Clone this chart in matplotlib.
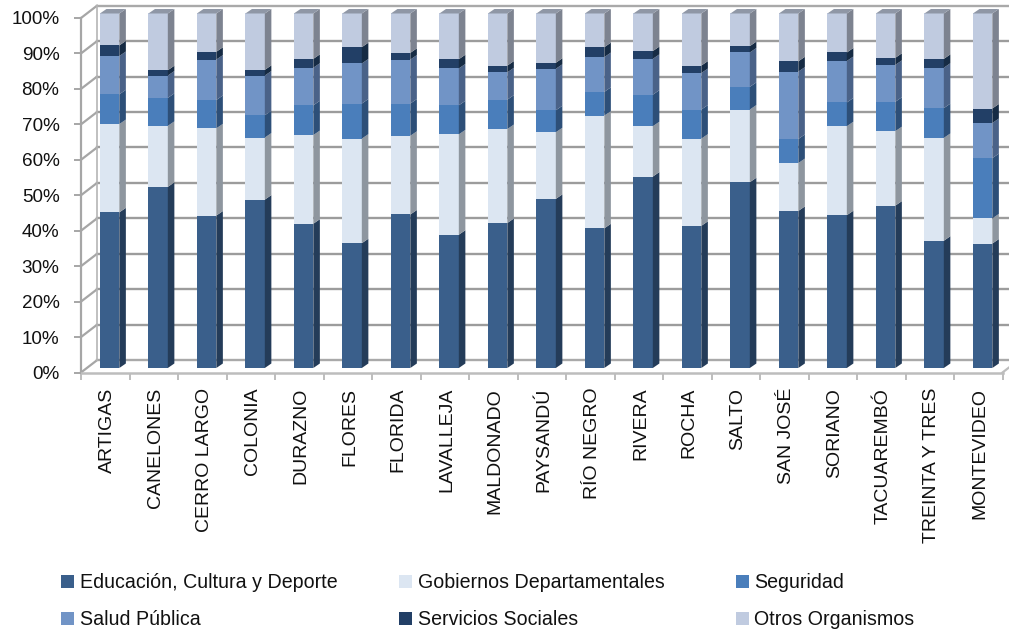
import numpy as np
import matplotlib
matplotlib.use("Agg")
import matplotlib.pyplot as plt
from matplotlib.collections import PolyCollection
from matplotlib.patches import Rectangle

plt.rcParams['font.family'] = ['Liberation Sans', 'DejaVu Sans']

departamentos = ["ARTIGAS", "CANELONES", "CERRO LARGO", "COLONIA", "DURAZNO", "FLORES", "FLORIDA",
                 "LAVALLEJA", "MALDONADO", "PAYSANDÚ", "RÍO NEGRO", "RIVERA", "ROCHA", "SALTO",
                 "SAN JOSÉ", "SORIANO", "TACUAREMBÓ", "TREINTA Y TRES", "MONTEVIDEO"]

educacion = [43.9, 51.1, 43.0, 47.5, 40.7, 35.2, 43.3, 37.6, 40.9, 47.7, 39.4, 54.0, 40.1, 52.4, 44.3, 43.1, 45.8, 35.9, 35.1]
gobiernos = [24.9, 17.2, 24.6, 17.5, 25.0, 29.5, 22.2, 28.3, 26.5, 18.8, 31.8, 14.2, 24.6, 20.5, 13.5, 25.1, 21.0, 29.0, 7.1]
seguridad = [8.4, 7.9, 8.0, 6.3, 8.4, 9.9, 9.1, 8.2, 8.3, 6.2, 6.7, 8.9, 8.2, 6.4, 6.8, 6.7, 8.3, 8.4, 17.0]
salud = [10.8, 6.3, 11.4, 11.2, 10.6, 11.3, 12.4, 10.4, 7.7, 11.7, 9.8, 10.1, 10.3, 9.7, 19.0, 11.7, 10.4, 11.4, 9.9]
servicios = [3.0, 1.5, 2.2, 1.6, 2.5, 4.6, 1.9, 2.6, 1.9, 1.7, 2.8, 2.2, 2.1, 1.8, 2.9, 2.4, 2.0, 2.5, 4.1]
otros = [9.0, 16.0, 10.8, 15.9, 12.8, 9.5, 11.1, 12.9, 14.7, 13.9, 9.5, 10.6, 14.7, 9.2, 13.5, 11.0, 12.5, 12.8, 26.8]

series = [educacion, gobiernos, seguridad, salud, servicios, otros]
nombres = ["Educación, Cultura y Deporte", "Gobiernos Departamentales", "Seguridad",
           "Salud Pública", "Servicios Sociales", "Otros Organismos"]
colores = ["#3A5F8B", "#DCE6F2", "#4A7EBB", "#7194C6", "#223F66", "#C0CBE0"]
laterales = ["#243C59", "#8E969F", "#2D4F78", "#4A6288", "#162B44", "#7D8390"]

W, H = 1009, 633
fig = plt.figure(figsize=(W / 100, H / 100), dpi=100)
ax = fig.add_axes([81 / W, 1 - 372.5 / H, 921.5 / W, 354.5 / H])
ax.set_xlim(0, 19)
ax.set_ylim(0, 100)
for s in ax.spines.values():
    s.set_visible(False)
ax.patch.set_alpha(0)

# fake 3d: depth of the wall and of each bar, in data units
wall_dx, wall_dy = 0.33, 3.47
bar_dx, bar_dy = 0.135, 1.27
bar_w = 0.40
bar_shift = 0.09

# walls
for v in range(0, 101, 10):
    c = '#A9A9A9' if v in (0, 100) else '#9C9C9C'
    ax.plot([0, wall_dx], [v, v + wall_dy], color='#A6A6A6', lw=1.6, clip_on=False, zorder=1)
    ax.plot([wall_dx, 19 + wall_dx], [v + wall_dy, v + wall_dy], color=c, lw=1.7, clip_on=False, zorder=1)
ax.plot([0, 0], [0, 100], color='#A6A6A6', lw=1.6, clip_on=False, zorder=1)
ax.plot([wall_dx, wall_dx], [wall_dy, 100 + wall_dy], color='#B5B5B5', lw=1.2, clip_on=False, zorder=1)
ax.plot([0, 19], [0, 0], color='#BDBDBD', lw=1.8, clip_on=False, zorder=1)
ax.plot([19, 19 + wall_dx], [0, wall_dy], color='#BDBDBD', lw=1.6, clip_on=False, zorder=1)

# bars
x = np.arange(len(departamentos)) + 0.5 + bar_shift
base = np.full(len(x), bar_dy)
for vals, nombre, col, lat in zip(series, nombres, colores, laterales):
    vals = np.array(vals)
    ax.bar(x, vals, bar_w, bottom=base, color=col, label=nombre, zorder=3, clip_on=False)
    caras = []
    for xi, b, v in zip(x, base, vals):
        r = xi + bar_w / 2
        caras.append([(r, b), (r + bar_dx, b + bar_dy), (r + bar_dx, b + v + bar_dy), (r, b + v)])
    ax.add_collection(PolyCollection(caras, facecolors=lat, edgecolors='none', zorder=3, clip_on=False))
    base = base + vals

# lid of the bars
tapas = []
for xi, t in zip(x, base):
    l, r = xi - bar_w / 2, xi + bar_w / 2
    tapas.append([(l, t), (r, t), (r + bar_dx, t + bar_dy), (l + bar_dx, t + bar_dy)])
ax.add_collection(PolyCollection(tapas, facecolors='#8F97A6', edgecolors='none', zorder=3, clip_on=False))

# axes text
ax.set_yticks(range(0, 101, 10))
ax.set_yticklabels([f"{v}%" for v in range(0, 101, 10)], fontsize=13.6, color='#111111')
ax.tick_params(axis='y', length=5, width=1.4, color='#A6A6A6', pad=10.5)
# majors only carry the labels, nudged so the capitals sit centred on the slot
ax.set_xticks(np.arange(len(departamentos)) + 0.54)
ax.set_xticklabels(departamentos, rotation=90, fontsize=14, color='#111111')
ax.tick_params(axis='x', which='major', length=0, pad=11)
ax.set_xticks(np.arange(0, 20), minor=True)
ax.tick_params(axis='x', which='minor', length=5, width=1.4, color='#BDBDBD')

# legend, drawn by hand because the columns are evenly spaced
col_x = [61, 399, 736]
row_y = [581.7, 618.5]
for i, (nombre, col) in enumerate(zip(nombres, colores)):
    px, py = col_x[i % 3], row_y[i // 3]
    fig.add_artist(Rectangle((px / W, 1 - (py + 6.5) / H), 13 / W, 13 / H, color=col, lw=0,
                             transform=fig.transFigure))
    fig.text((px + 18.5) / W, 1 - (py + 1.2) / H, nombre, fontsize=14.15, color='#111111', va='center', ha='left')

fig.savefig("out.png", dpi=100)
